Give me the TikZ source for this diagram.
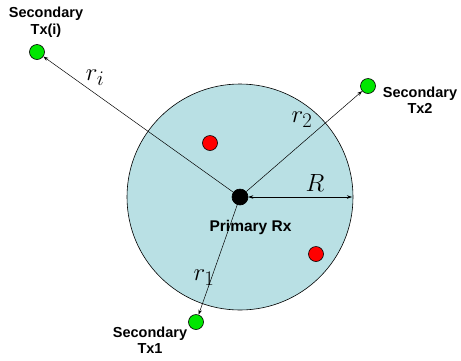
\documentclass[tikz,border=0pt]{standalone}
\usepackage{fontspec}
\setmainfont{Liberation Sans}
\usetikzlibrary{arrows.meta}
\definecolor{cellblue}{RGB}{185,224,228}
\definecolor{txgreen}{RGB}{0,230,0}
\definecolor{pured}{RGB}{255,0,0}
\begin{document}
\begin{tikzpicture}[x=1pt,y=-1pt,
  dot/.style={circle,draw=black,line width=0.6pt,inner sep=0pt,minimum size=15pt},
  txdot/.style={dot,fill=txgreen,minimum size=15pt},
  rxdot/.style={dot,fill=black,minimum size=16pt},
  reddot/.style={dot,fill=pured,minimum size=15pt},
  lbl/.style={font=\fontsize{14.5}{16.5}\selectfont\bfseries,align=center,inner sep=0pt},
  conn/.style={line width=0.5pt,-{Stealth[length=5pt,width=3.5pt]}},
  mathlbl/.style={inner sep=0pt,font=\fontsize{30}{30}\selectfont},
]
\useasboundingbox (0,0) rectangle (461,360);
\fill[white] (0,0) rectangle (461,360);
\node[circle,draw=black,line width=0.6pt,fill=cellblue,minimum size=226pt,inner sep=0pt] (cell) at (240,197) {};
\node[rxdot] (rx) at (240,197) {};
\node[reddot] (red1) at (210,143) {};
\node[reddot] (red2) at (316,254) {};
\node[txdot] (txi) at (37,52) {};
\node[txdot] (tx2) at (368,86) {};
\node[txdot] (tx1) at (196,322) {};
\coordinate (redge) at (352,197);
\draw[conn] (rx) -- (txi);
\draw[conn] (rx) -- (tx2);
\draw[conn] (rx) -- (tx1);
\draw[line width=0.5pt,{Stealth[length=5pt,width=3.5pt]}-{Stealth[length=5pt,width=3.5pt]}] (rx) -- (redge);
\node[lbl] (ltxi) at (46,22) {Secondary\\Tx(i)};
\node[lbl] (ltx2) at (420,100) {Secondary\\Tx2};
\node[lbl] (ltx1) at (150,340) {Secondary\\Tx1};
\node[lbl,font=\fontsize{15.5}{17}\selectfont\bfseries] (lrx) at (250.5,227) {Primary Rx};
\node[mathlbl] (lri) at (95,78) {$r_i$};
\node[mathlbl] (lr2) at (302,120) {$r_2$};
\node[mathlbl] (lr1) at (204,278) {$r_1$};
\node[inner sep=0pt,font=\fontsize{23}{23}\selectfont] (lR) at (315,183) {$R$};
\end{tikzpicture}
\end{document}
